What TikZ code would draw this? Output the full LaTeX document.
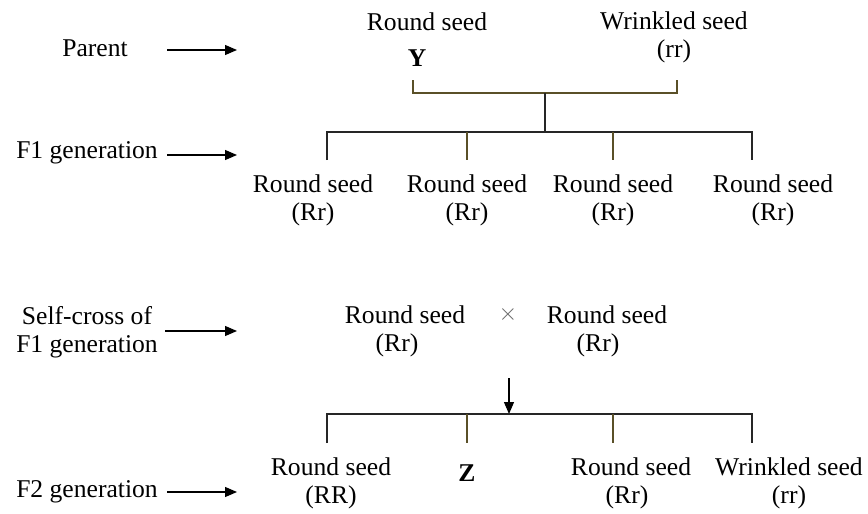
\documentclass[tikz,border=0pt]{standalone}
\usepackage{fontspec}
\setmainfont{Liberation Serif}
\usetikzlibrary{arrows.meta}
\definecolor{stemcol}{RGB}{90,80,40}
\tikzset{
    lbl/.style={font=\fontsize{12.8}{14}\selectfont, align=center, inner sep=0pt},
    pointer/.style={-{Triangle[length=6pt,width=5pt]}, line width=0.6pt},
    branch/.style={line width=1pt, black!85},
    stem/.style={line width=0.7pt, stemcol}
}
\begin{document}
\begin{tikzpicture}[x=0.5pt, y=-0.5pt]
    \useasboundingbox (0,0) rectangle (868,514);

        % Row labels on the left
    \node[lbl] (parent) at (95,48) {Parent};
    \node[lbl] (fone) at (87,153) {F1 generation};
    \node[lbl] (self) at (87,332) {Self-cross of\\F1 generation};
    \node[lbl] (ftwo) at (87,492) {F2 generation};

    \coordinate (pa1) at (167,50);   \coordinate (pa2) at (237,50);
    \coordinate (fa1) at (167,155);  \coordinate (fa2) at (237,155);
    \coordinate (sa1) at (165,331);  \coordinate (sa2) at (237,331);
    \coordinate (ta1) at (167,492);  \coordinate (ta2) at (237,492);
    \draw[pointer] (pa1) -- (pa2);
    \draw[pointer] (fa1) -- (fa2);
    \draw[pointer] (sa1) -- (sa2);
    \draw[pointer] (ta1) -- (ta2);

        % Parents
    \node[lbl] (round) at (427,22) {Round seed};
    \node[lbl, font=\fontsize{12.8}{14}\selectfont\bfseries] (y) at (417,58) {Y};
    \node[lbl] (wrinkled) at (674,37) {Wrinkled seed\\(rr)};

    \coordinate (bl) at (413,80);  \coordinate (br) at (677,80);
    \coordinate (bm) at (545,93);
    \draw[stem] (bl) |- (bm) -| (br);

        % F1 generation
    \coordinate (fl) at (327,132);  \coordinate (fr) at (752,132);
    \draw[branch] (bm) -- (bm |- fl);
    \draw[branch] (fl) ++(0,28) -- (fl) -- (fr) -- ++(0,28);
    \foreach \xx in {467,613}
        \draw[stem] (\xx,132) -- (\xx,160);

    \node[lbl] (fa) at (313,200) {Round seed\\(Rr)};
    \node[lbl] (fb) at (467,200) {Round seed\\(Rr)};
    \node[lbl] (fc) at (613,200) {Round seed\\(Rr)};
    \node[lbl] (fd) at (773,200) {Round seed\\(Rr)};

        % Self-cross
    \node[lbl] (sl) at (405,331) {Round seed\\\hspace*{-8pt}(Rr)};
    \node[lbl, text=black!60] (cross) at (508,314) {$\times$};
    \node[lbl] (sr) at (607,331) {Round seed\\\hspace*{-9pt}(Rr)};

    \coordinate (dtop) at (509,378);
    \coordinate (tl) at (327,414);  \coordinate (tr) at (752,414);
    \draw[pointer] (dtop) -- (dtop |- tl);

        % F2 generation
    \draw[branch] (tl) ++(0,29) -- (tl) -- (tr) -- ++(0,29);
    \foreach \xx in {467,613}
        \draw[stem] (\xx,414) -- (\xx,443);

    \node[lbl] (ta) at (331,483) {Round seed\\(RR)};
    \node[lbl, font=\fontsize{12.8}{14}\selectfont\bfseries] (z) at (467,473) {Z};
    \node[lbl] (tc) at (631,483) {Round seed\\\hspace*{-4pt}(Rr)};
    \node[lbl] (td) at (789,483) {Wrinkled seed\\(rr)};
\end{tikzpicture}
\end{document}
